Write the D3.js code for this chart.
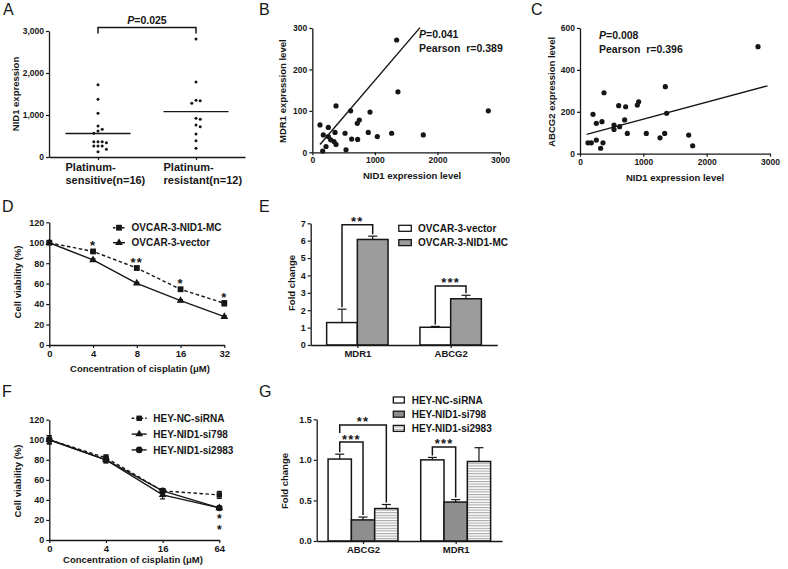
<!DOCTYPE html>
<html><head><meta charset="utf-8">
<script src="https://cdn.jsdelivr.net/npm/d3@7"></script>
<style>
body{margin:0;background:#fff;}
svg{font-family:"Liberation Sans",Arial,sans-serif;font-weight:bold;}
</style></head><body>
<svg id="c" width="788" height="569"></svg>
<script>
// ---------- DATA ----------
// Panel A
const groupsA = ["Platinum-sensitive(n=16)", "Platinum-resistant(n=12)"];
const groupLinesA = [["Platinum-", "sensitive(n=16)"], ["Platinum-", "resistant(n=12)"]];
const sensitiveA = [1723, 1374, 1040, 738, 659, 619, 564, 364, 364, 364, 341, 262, 262, 262, 183, 127];
const resistantA = [2811, 1787, 1350, 1340, 1278, 921, 897, 762, 721, 548, 388, 207];
const medianA = [560, 1080];
const ticksA = [0, 1000, 2000, 3000];
const pTextA = "0.025";
// Panel B
const nid1B = [123, 379, 613, 922, 751, 719, 256, 176, 256, 363, 523, 294, 347, 379, 219, 166, 539, 629, 725, 895, 1039, 1268, 1348, 1369, 1774, 2813];
const mdr1B = [66, 112, 100, 97, 78, 70, 60, 42, 38, 48, 46, 30, 26, 19, 14, 3, 6, 32, 31, 48, 38, 46, 271, 146, 42, 100];
const regXB = [123, 1721], regYB = [19, 301];
const statsB = ["0.041", "Pearson  r=0.389"];
// Panel C
const nid1C = [126, 179, 205, 258, 258, 326, 347, 363, 379, 537, 537, 611, 626, 705, 721, 747, 905, 926, 1047, 1263, 1337, 1347, 1368, 1716, 1779, 2811];
const abcg2C = [52, 52, 188, 145, 65, 26, 153, 52, 291, 137, 116, 229, 129, 161, 224, 97, 232, 248, 97, 76, 97, 320, 193, 89, 38, 511];
const regXC = [105, 2960], regYC = [92, 324];
const statsC = ["0.008", "Pearson  r=0.396"];
const ticksXBC = [0, 1000, 2000, 3000];
const ticksYB = [0, 100, 200, 300];
const ticksYC = [0, 200, 400, 600];
// Panel D
const concD = ["0", "4", "8", "16", "32"];
const seriesD = ["OVCAR-3-NID1-MC", "OVCAR-3-vector"];
const nid1mcD = [100, 91.5, 75.3, 54.5, 40.8];
const nid1mcErrD = [1.5, 1.2, 1.2, 1.2, 2.5];
const vectorD = [100, 83.2, 60.3, 43.4, 27.7];
const vectorErrD = [1.5, 1, 1, 1, 1];
const starsD = ["", "*", "**", "*", "*"];
const ticksViab = [0, 20, 40, 60, 80, 100, 120];
// Panel E
const genesE = ["MDR1", "ABCG2"];
const seriesE = ["OVCAR-3-vector", "OVCAR-3-NID1-MC"];
const vectorE = [1.29, 1.02], vectorErrE = [0.77, 0.05];
const nid1mcE = [6.07, 2.66], nid1mcErrE = [0.19, 0.2];
const sigE = ["**", "***"], sigLevelE = [6.91, 3.39];
const ticksE = [0, 1, 2, 3, 4, 5, 6, 7];
// Panel F
const concF = ["0", "4", "16", "64"];
const seriesF = ["HEY-NC-siRNA", "HEY-NID1-si798", "HEY-NID1-si2983"];
const ncF = [100, 82, 49, 45], ncErrF = [4, 3, 2, 3.5];
const si798F = [100, 80, 45, 32], si798ErrF = [4, 3, 4, 1.5];
const si2983F = [100, 80, 49, 32], si2983ErrF = [4, 3, 2, 1.5];
const starsF = ["", "", "", "**"];
// Panel G
const genesG = ["ABCG2", "MDR1"];
const seriesG = ["HEY-NC-siRNA", "HEY-NID1-si798", "HEY-NID1-si2983"];
const ncG = [1.01, 1.00], ncErrG = [0.06, 0.03];
const si798G = [0.26, 0.48], si798ErrG = [0.035, 0.03];
const si2983G = [0.40, 0.98], si2983ErrG = [0.05, 0.17];
// brackets: gene index, series a, series b, level, left-leg end (null = down to bar), label
const bracketsG = [
  {g: 0, a: 0, b: 2, level: 1.43, leftEnd: 1.33, label: "**"},
  {g: 0, a: 0, b: 1, level: 1.22, leftEnd: null, label: "***"},
  {g: 1, a: 0, b: 1, level: 1.16, leftEnd: null, label: "***"}
];
const ticksG = [0, 0.5, 1.0, 1.5];

// ---------- HELPERS ----------
const svg = d3.select("#c");
const INK = "#161616";
const TICK_FS = 9, TITLE_FS = 9.5, LEG_FS = 10;
const defs = svg.append("defs");
const pat = defs.append("pattern").attr("id", "stripes").attr("patternUnits", "userSpaceOnUse")
  .attr("width", 6).attr("height", 2.6);
pat.append("rect").attr("width", 6).attr("height", 2.6).attr("fill", "#fff");
pat.append("rect").attr("width", 6).attr("height", 1.1).attr("fill", "#a8a8a8");

function styleAxis(g, fs) {
  g.select(".domain").attr("stroke", INK).attr("stroke-width", 1.3);
  g.selectAll(".tick line").attr("stroke", INK).attr("stroke-width", 1.2);
  g.selectAll("text").attr("fill", INK).style("font-size", fs + "px").style("font-weight", "bold")
    .style("font-family", '"Liberation Sans",Arial,sans-serif');
}
function leftAxis(scale, x, ticks, fmt, fs) {
  const g = svg.append("g").attr("transform", `translate(${x},0)`)
    .call(d3.axisLeft(scale).tickValues(ticks).tickSize(3).tickSizeOuter(0).tickPadding(2).tickFormat(fmt));
  styleAxis(g, fs || TICK_FS); return g;
}
function bottomAxis(scale, y, ticks, fmt, fs) {
  let ax = d3.axisBottom(scale).tickSize(3).tickSizeOuter(0).tickPadding(2);
  if (ticks) ax = ax.tickValues(ticks);
  if (fmt) ax = ax.tickFormat(fmt);
  const g = svg.append("g").attr("transform", `translate(0,${y})`).call(ax);
  styleAxis(g, fs || TICK_FS); return g;
}
function label(x, y, str, fs, anchor, weight) {
  return svg.append("text").attr("x", x).attr("y", y).text(str)
    .attr("font-size", fs).attr("text-anchor", anchor || "start")
    .attr("font-weight", weight || "bold").attr("fill", INK);
}
function vlabel(x, y, str, fs) {
  return svg.append("text").attr("transform", `translate(${x},${y}) rotate(-90)`)
    .attr("text-anchor", "middle").attr("dy", "0.35em").attr("font-size", fs).attr("fill", INK).text(str);
}
function stars(x, cy, str) {
  return svg.append("text").attr("x", x).attr("y", cy + 7.5).attr("text-anchor", "middle")
    .attr("font-size", 13).attr("letter-spacing", 1.2).attr("fill", INK).text(str);
}
function pText(x, y, val, fs) {
  const t = svg.append("text").attr("x", x).attr("y", y).attr("font-size", fs).attr("fill", INK);
  t.append("tspan").attr("font-style", "italic").text("P");
  t.append("tspan").text("=" + val);
  return t;
}
function errBar(x, y0, y1, w) {
  svg.append("line").attr("x1", x).attr("x2", x).attr("y1", y0).attr("y2", y1).attr("stroke", INK).attr("stroke-width", 1.2);
  svg.append("line").attr("x1", x - w / 2).attr("x2", x + w / 2).attr("y1", y1).attr("y2", y1).attr("stroke", INK).attr("stroke-width", 1.2);
}
function bracket(x1, x2, yTop, yL, yR) {
  svg.append("path").attr("d", `M${x1},${yL}V${yTop}H${x2}V${yR}`).attr("fill", "none")
    .attr("stroke", INK).attr("stroke-width", 1.5);
}

// Panel letters
[["A", 3, 15], ["B", 259, 15], ["C", 531, 15], ["D", 2, 212], ["E", 259, 212], ["F", 2, 397], ["G", 259, 397]]
  .forEach(([t, x, y]) => label(x, y, t, 16, "start", "normal"));

// ---------- PANEL A ----------
{
  const y = d3.scaleLinear().domain([0, 3000]).range([157, 31]);
  const x = d3.scalePoint().domain(groupsA).range([49, 245]).padding(0.5);
  leftAxis(y, 49, ticksA, d3.format(","), 8.5);
  bottomAxis(x, 157, null, () => "");
  groupsA.forEach((g, i) => {
    groupLinesA[i].forEach((ln, j) => label(x(g) - 32.5, 170.8 + j * 13.3, ln, 11));
  });
  vlabel(16, 94, "NID1 expression", TITLE_FS);
  [sensitiveA, resistantA].forEach((vals, gi) => {
    const cx = x(groupsA[gi]);
    const placed = [];
    vals.slice().sort((a, b) => b - a).forEach(v => {
      const py = y(v);
      const offs = [0, 4.2, -4.2, 8.4, -8.4, 12.6, -12.6];
      let px = cx;
      for (const o of offs) {
        if (placed.every(p => Math.hypot(p[0] - (cx + o), p[1] - py) >= 4)) { px = cx + o; break; }
      }
      placed.push([px, py]);
      svg.append("circle").attr("cx", px).attr("cy", py).attr("r", 1.5).attr("fill", INK);
    });
    svg.append("line").attr("x1", cx - 32.5).attr("x2", cx + 32.5).attr("y1", y(medianA[gi])).attr("y2", y(medianA[gi]))
      .attr("stroke", INK).attr("stroke-width", 1.4);
  });
  bracket(x(groupsA[0]), x(groupsA[1]), 27.5, 33.5, 33.5);
  pText((x(groupsA[0]) + x(groupsA[1])) / 2, 23.5, pTextA, 10.5).attr("text-anchor", "middle");
}

// ---------- PANELS B & C ----------
function scatterPanel(xs, ys, x0, x1, y0, y1, yMax, yTicks, regX, regY, stats, statX, statY, xTitleX, yTitleX, yTitle) {
  const x = d3.scaleLinear().domain([0, 3000]).range([x0, x1]);
  const y = d3.scaleLinear().domain([0, yMax]).range([y0, y1]);
  leftAxis(y, x0, yTicks, d3.format("d"), 8.5);
  bottomAxis(x, y0, ticksXBC, d3.format("d"), 8.5);
  xs.forEach((v, i) => svg.append("circle").attr("cx", x(v)).attr("cy", y(ys[i])).attr("r", 2.6).attr("fill", INK));
  svg.append("line").attr("x1", x(regX[0])).attr("y1", y(regY[0])).attr("x2", x(regX[1])).attr("y2", y(regY[1]))
    .attr("stroke", INK).attr("stroke-width", 1.4);
  pText(statX, statY, stats[0], 10.5);
  label(statX, statY + 14, stats[1], 10.5).style("white-space", "pre");
  label(xTitleX, y0 + 27, "NID1 expression level", TITLE_FS, "middle");
  vlabel(yTitleX, (y0 + y1) / 2 + 1, yTitle, TITLE_FS);
}
scatterPanel(nid1B, mdr1B, 312.3, 500, 152.3, 28, 300, ticksYB, regXB, regYB, statsB, 419, 37.5, 412, 283, "MDR1 expression level");
scatterPanel(nid1C, abcg2C, 580, 770, 153.7, 28, 600, ticksYC, regXC, regYC, statsC, 599, 38.5, 675, 552, "ABCG2 expression level");

// ---------- PANEL D / F (line charts) ----------
function symbolPath(type, size) { return d3.symbol().type(type).size(size)(); }
function linePanel(cats, series, x0, x1, y0, y1, xTitleX, xTitleY, yTitleY) {
  const x = d3.scalePoint().domain(cats).range([x0, x1]);
  const y = d3.scaleLinear().domain([0, 120]).range([y0, y1]);
  leftAxis(y, x0, ticksViab, d3.format("d"));
  bottomAxis(x, y0, null, null, 9.5);
  series.forEach(s => {
    const ln = d3.line().x((d, i) => x(cats[i])).y(d => y(d));
    svg.append("path").attr("d", ln(s.vals)).attr("fill", "none").attr("stroke", INK)
      .attr("stroke-width", 1.4).attr("stroke-dasharray", s.dash || null);
    s.vals.forEach((v, i) => {
      const cx = x(cats[i]);
      errBar(cx, y(v), y(v + s.errs[i]), 5);
      errBar(cx, y(v), y(v - s.errs[i]), 5);
      svg.append("path").attr("d", symbolPath(s.sym, s.size)).attr("transform", `translate(${cx},${y(v)})`).attr("fill", INK);
    });
  });
  label(xTitleX, xTitleY, "Concentration of cisplatin (\u03bcM)", TITLE_FS, "middle");
  vlabel(18, yTitleY, "Cell viability (%)", TITLE_FS);
  return {x, y};
}
{
  const sD = [
    {name: seriesD[0], vals: nid1mcD, errs: nid1mcErrD, sym: d3.symbolSquare, size: 34, dash: "3.5,2.5"},
    {name: seriesD[1], vals: vectorD, errs: vectorErrD, sym: d3.symbolTriangle, size: 26}
  ];
  const {x, y} = linePanel(concD, sD, 49.3, 224.3, 345, 222.3, 140, 372, 282);
  starsD.forEach((s, i) => { if (s) stars(x(concD[i]), y(nid1mcD[i]) - 8.7, s); });
  sD.forEach((s, i) => {
    const ly = 227.7 + i * 15;
    svg.append("line").attr("x1", 113).attr("x2", 125).attr("y1", ly).attr("y2", ly).attr("stroke", INK)
      .attr("stroke-width", 1.4).attr("stroke-dasharray", s.dash ? "2.5,2" : null);
    svg.append("path").attr("d", symbolPath(s.sym, s.size)).attr("transform", `translate(119,${ly})`).attr("fill", INK);
    label(131.5, ly + 3.6, s.name, LEG_FS);
  });
}
{
  const sF = [
    {name: seriesF[0], vals: ncF, errs: ncErrF, sym: d3.symbolSquare, size: 30, dash: "3.5,2.5"},
    {name: seriesF[1], vals: si798F, errs: si798ErrF, sym: d3.symbolTriangle, size: 26},
    {name: seriesF[2], vals: si2983F, errs: si2983ErrF, sym: d3.symbolCircle, size: 34}
  ];
  const {x, y} = linePanel(concF, sF, 49.3, 219.3, 540, 419.7, 133, 563, 481);
  // stacked significance stars: a single vertical text run
  starsF.forEach((s, i) => {
    if (!s) return;
    svg.append("text").attr("x", x(concF[i])).attr("y", y(si2983F[i]) + 4)
      .attr("writing-mode", "vertical-rl").style("text-orientation", "upright")
      .attr("font-size", 12).attr("letter-spacing", -3.2).attr("fill", INK).text(s);
  });
  sF.forEach((s, i) => {
    const ly = 418.3 + i * 15.8;
    svg.append("line").attr("x1", 131.7).attr("x2", 146.7).attr("y1", ly).attr("y2", ly).attr("stroke", INK)
      .attr("stroke-width", 1.4).attr("stroke-dasharray", s.dash ? "2.5,2" : null);
    svg.append("path").attr("d", symbolPath(s.sym, s.size)).attr("transform", `translate(139.2,${ly})`).attr("fill", INK);
    label(153.3, ly + 3.6, s.name, LEG_FS);
  });
}

// ---------- PANEL E / G (bar charts) ----------
function barPanel(genes, series, x0, x1, y0, y1, yMax, ticks, fmt, bw, yTitleX, yTitleY) {
  const x = d3.scalePoint().domain(genes).range([x0, x1]).padding(0.5);
  const y = d3.scaleLinear().domain([0, yMax]).range([y0, y1]);
  const n = series.length;
  const bx = (gi, si) => x(genes[gi]) + (si - n / 2) * bw;
  series.forEach((s, si) => {
    genes.forEach((g, gi) => {
      const xx = bx(gi, si), v = s.vals[gi];
      errBar(xx + bw / 2, y(v), y(v + s.errs[gi]), 9);
      svg.append("rect").attr("x", xx).attr("y", y(v)).attr("width", bw).attr("height", y0 - y(v))
        .attr("fill", s.fill).attr("stroke", INK).attr("stroke-width", 1.5);
    });
  });
  leftAxis(y, x0, ticks, fmt);
  bottomAxis(x, y0, null, null, 9.5);
  vlabel(yTitleX, yTitleY, "Fold change", TITLE_FS);
  return {x, y, bx};
}
{
  const sE = [
    {name: seriesE[0], vals: vectorE, errs: vectorErrE, fill: "#fff"},
    {name: seriesE[1], vals: nid1mcE, errs: nid1mcErrE, fill: "#9c9c9c"}
  ];
  const bw = 30.7;
  const {x, y, bx} = barPanel(genesE, sE, 310.7, 497.3, 345, 223.3, 7, ticksE, d3.format("d"), bw, 291.7, 283);
  genesE.forEach((g, gi) => {
    const xa = bx(gi, 0) + bw / 2, xb = bx(gi, 1) + bw / 2;
    const top = y(sigLevelE[gi]);
    bracket(xa, xb, top, y(vectorE[gi] + vectorErrE[gi]) - 2, y(nid1mcE[gi] + nid1mcErrE[gi]) - 2);
    stars((xa + xb) / 2, top - 6.5, sigE[gi]);
  });
  sE.forEach((s, i) => {
    const ly = 228.3 + i * 14.3;
    svg.append("rect").attr("x", 398.8).attr("y", ly - 3).attr("width", 12.5).attr("height", 6)
      .attr("fill", s.fill).attr("stroke", INK).attr("stroke-width", 1.3);
    label(418, ly + 3.6, s.name, LEG_FS);
  });
}
{
  const sG = [
    {name: seriesG[0], vals: ncG, errs: ncErrG, fill: "#fff"},
    {name: seriesG[1], vals: si798G, errs: si798ErrG, fill: "#8e8e8e"},
    {name: seriesG[2], vals: si2983G, errs: si2983ErrG, fill: "url(#stripes)"}
  ];
  const bw = 23.3;
  const {x, y, bx} = barPanel(genesG, sG, 316.7, 502, 541, 419.3, 1.5, ticksG, d3.format(".1f"), bw, 285, 481);
  bracketsG.forEach(b => {
    const s = sG;
    const xa = bx(b.g, b.a) + bw / 2, xb = bx(b.g, b.b) + bw / 2;
    const top = y(b.level);
    const yL = b.leftEnd != null ? y(b.leftEnd) : y(s[b.a].vals[b.g] + s[b.a].errs[b.g]) - 2;
    const yR = y(s[b.b].vals[b.g] + s[b.b].errs[b.g]) - 2;
    bracket(xa, xb, top, yL, yR);
    stars((xa + xb) / 2, top - 6, b.label);
  });
  sG.forEach((s, i) => {
    const ly = 400 + i * 14.2;
    svg.append("rect").attr("x", 393.3).attr("y", ly - 3).attr("width", 11).attr("height", 6)
      .attr("fill", s.fill).attr("stroke", INK).attr("stroke-width", 1.3);
    label(411.7, ly + 3.6, s.name, LEG_FS);
  });
}
</script>
</body></html>
